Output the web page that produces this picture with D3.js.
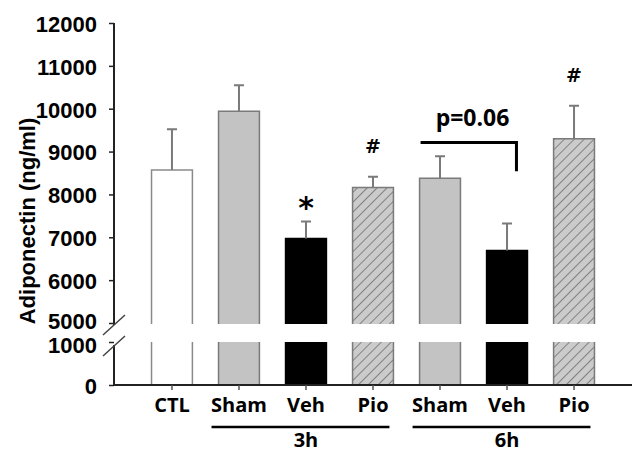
<!DOCTYPE html>
<html lang="en">
  <head>
    <meta charset="UTF-8" />
    <title>Adiponectin</title>
    <script src="https://d3js.org/d3.v7.min.js"></script>
    <style>
      body {
        margin: 0;
        padding: 0;
        background-color: #fff;
      }
      text {
        font-family: Arial, "Liberation Sans", sans-serif;
        font-weight: bold;
        fill: #000;
      }
      .lbl {
        font-family: "Open Sans", "Noto Sans", sans-serif;
      }
    </style>
  </head>
  <body>
    <div id="chart"></div>

    <script>
      const width = 642;
      const height = 461;

      // data
      const groups = ["CTL", "Sham", "Veh", "Pio", "Sham", "Veh", "Pio"];
      const means = [8570, 9940, 6970, 8160, 8380, 6690, 9300];
      const errors = [950, 610, 400, 250, 510, 630, 770];
      const kinds = ["ctl", "sham", "veh", "pio", "sham", "veh", "pio"];
      const marks = ["", "", "*", "#", "", "", "#"];
      const upperTicks = [5000, 6000, 7000, 8000, 9000, 10000, 11000, 12000];
      const lowerTicks = [0, 1000];
      const timeGroups = [
        { label: "3h", from: 1, to: 3 },
        { label: "6h", from: 4, to: 6 },
      ];

      const svg = d3.select("#chart").append("svg").attr("width", width).attr("height", height);

      const defs = svg.append("defs");
      const pat = defs.append("pattern").attr("id", "hatch").attr("patternUnits", "userSpaceOnUse").attr("width", 7).attr("height", 7).attr("patternTransform", "rotate(45)");
      pat.append("rect").attr("width", 7).attr("height", 7).attr("fill", "#cbcbcb");
      pat.append("line").attr("x1", 0).attr("y1", 0).attr("x2", 0).attr("y2", 7).attr("stroke", "#6e6e6e").attr("stroke-width", 1.6);

      const fills = { ctl: "#fff", sham: "#c3c3c3", veh: "#000", pio: "url(#hatch)" };
      const strokes = { ctl: "#8a8a8a", sham: "#7a7a7a", veh: "#000", pio: "#7a7a7a" };

      const x = d3.scaleBand().domain(d3.range(groups.length)).range([114, 632]).paddingInner(0.39).paddingOuter(0.56);
      const yTop = d3.scaleLinear().domain([5000, 12000]).range([323, 23]);
      const yBot = d3.scaleLinear().domain([0, 1000]).range([385, 342]);

      const bars = svg.append("g").selectAll("g").data(means).join("g");

      // upper section
      bars
        .append("rect")
        .attr("x", (d, i) => x(i))
        .attr("y", (d) => yTop(d))
        .attr("width", x.bandwidth())
        .attr("height", (d) => yTop(5000) + 1 - yTop(d))
        .attr("fill", (d, i) => fills[kinds[i]]);
      bars
        .append("path")
        .attr("d", (d, i) => `M${x(i)},${yTop(5000) + 1}V${yTop(d)}H${x(i) + x.bandwidth()}V${yTop(5000) + 1}`)
        .attr("fill", "none")
        .attr("stroke", (d, i) => strokes[kinds[i]])
        .attr("stroke-width", 1.5);

      // lower section
      bars
        .append("rect")
        .attr("x", (d, i) => x(i))
        .attr("y", yBot(1000))
        .attr("width", x.bandwidth())
        .attr("height", yBot(0) - yBot(1000))
        .attr("fill", (d, i) => fills[kinds[i]]);
      bars
        .append("path")
        .attr("d", (d, i) => `M${x(i)},${yBot(1000)}V${yBot(0)}M${x(i) + x.bandwidth()},${yBot(1000)}V${yBot(0)}`)
        .attr("fill", "none")
        .attr("stroke", (d, i) => strokes[kinds[i]])
        .attr("stroke-width", 1.5);

      // error bars
      const cx = (i) => x(i) + x.bandwidth() / 2;
      bars
        .append("path")
        .attr("d", (d, i) => `M${cx(i)},${yTop(d)}V${yTop(d + errors[i])}M${cx(i) - 5},${yTop(d + errors[i])}H${cx(i) + 5}`)
        .attr("fill", "none")
        .attr("stroke", "#7a7a7a")
        .attr("stroke-width", 2);

      // significance marks
      bars
        .append("text")
        .attr("x", (d, i) => cx(i))
        .attr("y", (d, i) => yTop(d + errors[i]) - (marks[i] === "*" ? 3 : 24))
        .attr("text-anchor", "middle")
        .style("font-family", "'DejaVu Sans', Arial, sans-serif")
        .style("font-size", (d, i) => (marks[i] === "*" ? "30px" : "19px"))
        .text((d, i) => marks[i]);

      // p value bracket between 6h Sham and 6h Veh
      const bx1 = x(4) + 1;
      const bx2 = x(5) + x.bandwidth() - 11;
      svg
        .append("path")
        .attr("d", `M${bx1},${yTop(9210)}H${bx2}V${yTop(8540)}`)
        .attr("fill", "none")
        .attr("stroke", "#000")
        .attr("stroke-width", 3);
      svg
        .append("text")
        .attr("class", "lbl")
        .attr("x", (bx1 + bx2) / 2 + 4)
        .attr("y", yTop(9600))
        .attr("text-anchor", "middle")
        .style("font-size", "23px")
        .text("p=0.06");

      // y axis (broken)
      const fmt = d3.format("d");
      const axTop = svg.append("g").attr("transform", "translate(114,0)").call(d3.axisLeft(yTop).tickValues(upperTicks).tickFormat(fmt).tickSize(5).tickPadding(12).tickSizeOuter(0));
      const axBot = svg.append("g").attr("transform", "translate(114,0)").call(d3.axisLeft(yBot).tickValues(lowerTicks).tickFormat(fmt).tickSize(5).tickPadding(12).tickSizeOuter(0));
      axTop.select(".domain").attr("d", `M0,${yTop(12000)}V${yTop(5000) + 2}`);
      axBot.select(".domain").attr("d", `M0,${yBot(1000) + 3}V${yBot(0)}`);
      [axTop, axBot].forEach((ax) => {
        ax.select(".domain").attr("stroke", "#222").attr("stroke-width", 2);
        ax.selectAll(".tick line").attr("stroke", "#222").attr("stroke-width", 1.5);
        ax.selectAll(".tick text").style("font-size", "22px").style("font-family", "Arial, 'Liberation Sans', sans-serif").style("font-weight", "bold").attr("dy", "0.38em");
      });
      axTop.selectAll(".tick text").filter((d) => d === 5000).attr("dy", "0.27em");
      axBot.selectAll(".tick text").filter((d) => d === 1000).attr("dy", "0.48em");

      // break slashes
      svg
        .append("path")
        .attr("d", "M103,335L125,315M103,356L125,336")
        .attr("stroke", "#444")
        .attr("stroke-width", 1.5)
        .attr("fill", "none");

      // x axis
      const xAxis = svg
        .append("g")
        .attr("transform", `translate(0,${yBot(0)})`)
        .call(
          d3
            .axisBottom(x)
            .tickFormat((i) => groups[i])
            .tickSize(5)
            .tickPadding(8)
            .tickSizeOuter(0)
        );
      xAxis.select(".domain").attr("d", "M114,0H632").attr("stroke", "#222").attr("stroke-width", 2);
      xAxis.selectAll(".tick line").attr("stroke", "#555").attr("stroke-width", 1.5);
      xAxis.selectAll(".tick text").attr("class", "lbl").style("font-size", "20px").style("font-family", "'Open Sans', 'Noto Sans', sans-serif").style("font-weight", "bold");

      // time group lines
      const tg = svg.append("g").selectAll("g").data(timeGroups).join("g");
      tg.append("line")
        .attr("x1", (d) => x(d.from) - 7)
        .attr("x2", (d) => x(d.to) + x.bandwidth() - 4)
        .attr("y1", 427)
        .attr("y2", 427)
        .attr("stroke", "#000")
        .attr("stroke-width", 2.5);
      tg.append("text")
        .attr("class", "lbl")
        .attr("x", (d) => cx(d.from + 1))
        .attr("y", 447)
        .attr("text-anchor", "middle")
        .style("font-size", "20px")
        .text((d) => d.label);

      // y title
      svg
        .append("text")
        .attr("transform", "translate(35,221) rotate(-90)")
        .attr("text-anchor", "middle")
        .style("font-size", "22px")
        .text("Adiponectin (ng/ml)");
    </script>
  </body>
</html>
